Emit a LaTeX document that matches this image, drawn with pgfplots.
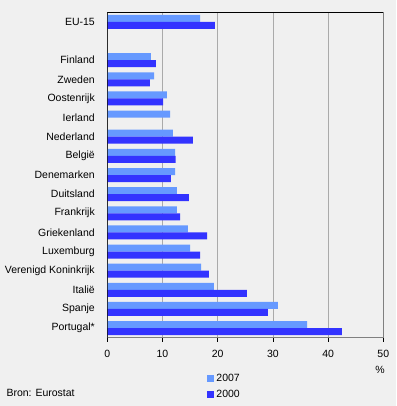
\documentclass[border=0pt]{standalone}
\usepackage{fontspec}
\setmainfont{Liberation Sans}
\usepackage{pgfplots}
\pgfplotsset{compat=1.18}
\definecolor{bgc}{HTML}{F0F0F0}
\definecolor{lightb}{HTML}{6699FF}
\definecolor{darkb}{HTML}{3333FF}
\definecolor{gridc}{HTML}{AAAAAA}
\definecolor{borderc}{HTML}{808080}
\begin{document}
\begin{tikzpicture}[font=\fontsize{10.5}{12.5}\selectfont]
\fill[bgc] (0pt,0pt) rectangle (396pt,406pt);
\useasboundingbox (0pt,0pt) rectangle (396pt,406pt);
\begin{axis}[
  at={(107.3pt,68.3pt)}, anchor=south west,
  scale only axis, width=276pt, height=325.4pt,
  xmin=0, xmax=50, ymin=-0.5, ymax=16.5,
  y dir=reverse,
  xbar, bar width=7pt,
  xtick={0,10,20,30,40,50},
  xtick pos=bottom, tick align=outside,
  major tick length=4pt,
  xtick style={black, line width=0.8pt},
  ytick={0,2,3,4,5,6,7,8,9,10,11,12,13,14,15,16},
  yticklabels={EU-15,Finland,Zweden,Oostenrijk,Ierland\hspace{2.6pt},Nederland,België,Denemarken,Duitsland,Frankrijk,Griekenland,Luxemburg,Verenigd Koninkrijk,Italië,Spanje,Portugal*},
  ytick style={draw=none},
  yticklabel style={xshift=-5pt},
  xticklabel style={yshift=-4.5pt},
  /pgf/number format/assume math mode=true,
  xmajorgrids, grid style={gridc, line width=0.8pt},
  axis line style={borderc, line width=0.8pt},
  axis background/.style={fill=bgc},
  legend style={at={(rel axis cs:0.362,-0.106)}, anchor=north west, draw=none, fill=none, inner sep=0pt, row sep=3pt, font=\fontsize{10.5}{12.5}\selectfont},
  legend cell align=left,
  legend image code/.code={\fill[#1] (0pt,-3.5pt) rectangle (7pt,3.5pt);},
]
\addplot[fill=lightb, draw=none, bar shift=3.5pt] coordinates {
(16.8,0) (7.9,2) (8.5,3) (10.8,4) (11.4,5) (11.9,6) (12.3,7) (12.3,8) (12.6,9) (12.6,10) (14.6,11) (15.0,12) (17.0,13) (19.3,14) (30.9,15) (36.2,16)};
\addplot[fill=darkb, draw=none, bar shift=-3.5pt] coordinates {
(19.5,0) (8.8,2) (7.7,3) (10.1,4) (15.5,6) (12.4,7) (11.5,8) (14.8,9) (13.2,10) (18.1,11) (16.8,12) (18.4,13) (25.3,14) (29.1,15) (42.5,16)};
\legend{2007,2000}
\draw[black, line width=0.8pt] (rel axis cs:0,0) -- (rel axis cs:0,1);
\draw[black, line width=0.8pt] (rel axis cs:0,1) -- (rel axis cs:1,1);
\end{axis}
\node at (380pt,36pt) {\%};
\node[anchor=west] at (3pt,12.7pt) {Bron: Eurostat};
\end{tikzpicture}
\end{document}
